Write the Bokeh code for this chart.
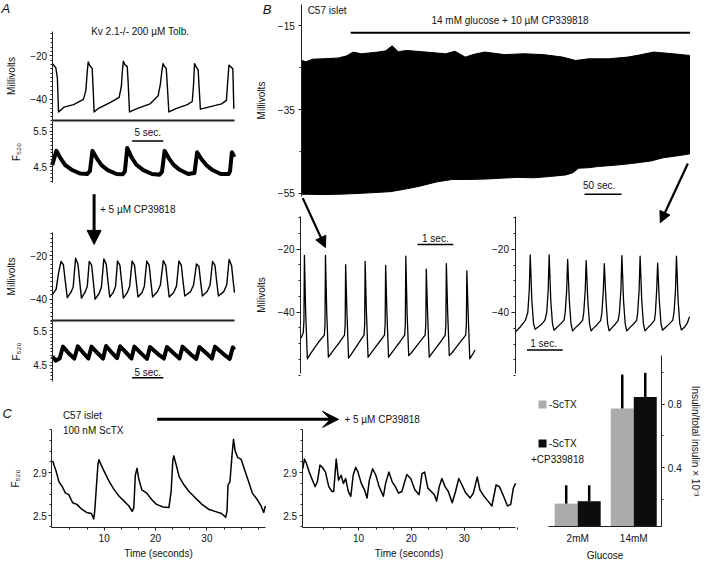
import numpy as np
from bokeh.plotting import figure
from bokeh.models import (Range1d, LinearAxis, FixedTicker, Label, Arrow,
                          NormalHead, VeeHead, Legend, LegendItem)
from bokeh.embed import file_html
from bokeh.resources import INLINE

# ================= DATA =================
# Panel A top: Kv2.1-/- islet, 200 uM tolbutamide -- membrane potential (s, mV)
a1_mv_t = [0.05, 0.58, 0.83, 1.02, 1.88, 3.44, 5.00, 5.39, 5.63, 5.78, 6.02, 6.41, 6.61, 6.72, 7.34,
           9.42, 10.73, 11.09, 11.25, 11.41, 11.64, 12.03, 12.19, 12.39, 13.59, 15.67, 16.98, 17.34,
           17.58, 17.77, 17.97, 18.28, 18.48, 18.70, 19.84, 21.67, 22.45, 22.66, 22.81, 23.05, 23.39,
           23.56, 23.75, 25.05, 27.14, 27.92, 28.13, 28.33, 28.59, 28.95, 29.11]
a1_mv_v = [-23.6, -25.5, -30.0, -45.8, -43.6, -42.4, -40.0, -36.0, -27.0, -22.8, -24.5, -25.8, -38.0,
           -45.8, -44.3, -41.3, -39.1, -34.0, -27.0, -22.5, -24.0, -25.0, -33.0, -45.8, -44.3, -42.1,
           -38.4, -33.0, -27.0, -23.6, -24.8, -25.8, -35.0, -45.8, -44.3, -42.4, -41.0, -33.0, -23.6,
           -25.0, -26.5, -35.0, -44.5, -43.6, -42.1, -40.5, -32.0, -24.3, -25.0, -26.0, -44.3]
# Panel A top: F520 fluorescence
a1_f_t = [0.0, 0.67, 1.35, 2.1, 3.1, 4.5, 5.6, 6.05, 6.45, 7.15, 7.9, 8.9, 10.3, 11.3, 11.65, 12.03,
          12.75, 13.5, 14.6, 16.0, 17.2, 17.6, 18.02, 18.7, 19.5, 20.5, 21.8, 22.8, 23.23, 23.9, 24.7,
          25.7, 27.0, 28.3, 28.5, 28.8, 29.2]
a1_f_v = [4.55, 4.95, 4.74, 4.55, 4.42, 4.31, 4.30, 4.38, 4.95, 4.74, 4.55, 4.41, 4.30, 4.29, 4.37,
          5.03, 4.76, 4.56, 4.41, 4.30, 4.28, 4.36, 4.95, 4.74, 4.55, 4.41, 4.30, 4.33, 4.91, 4.72,
          4.55, 4.41, 4.30, 4.30, 4.38, 4.91, 4.78]
# Panel A bottom (+5 uM CP339818): membrane potential
a2_mv_t = [0.05, 0.63, 1.02, 1.41, 1.80, 2.03, 2.42, 2.97, 3.36, 3.75, 4.14, 4.38, 4.69, 5.23, 5.63,
           5.94, 6.33, 6.56, 6.88, 7.50, 7.89, 8.28, 8.67, 8.91, 9.22, 9.77, 10.16, 10.47, 10.86,
           11.09, 11.41, 12.03, 12.42, 12.81, 13.20, 13.44, 13.75, 14.38, 14.77, 15.16, 15.55, 15.78,
           16.09, 16.88, 17.34, 17.81, 18.20, 18.44, 18.75, 19.45, 19.92, 20.31, 20.70, 20.94, 21.25,
           22.19, 22.66, 23.13, 23.52, 23.75, 24.06, 24.84, 25.31, 25.70, 26.09, 26.33, 26.64, 27.50,
           27.97, 28.36, 28.75, 28.98, 29.22]
a2_mv_v = [-37.8, -35.5, -28.0, -22.7, -24.2, -30.0, -39.3, -37.0, -34.5, -21.2, -24.0, -31.0, -39.5,
           -37.0, -34.0, -22.7, -24.4, -31.0, -40.0, -37.5, -34.5, -21.5, -24.0, -31.0, -39.0, -37.0,
           -34.0, -22.5, -24.5, -31.0, -39.5, -37.0, -34.0, -22.5, -24.5, -31.0, -39.0, -37.0, -34.0,
           -22.5, -24.5, -31.0, -39.0, -36.5, -33.5, -22.3, -24.5, -31.0, -39.0, -37.0, -34.0, -22.5,
           -24.5, -31.0, -38.5, -36.5, -33.5, -23.8, -25.0, -31.0, -38.5, -36.5, -33.5, -22.7, -24.5,
           -31.0, -38.5, -36.5, -33.5, -21.8, -24.5, -31.0, -37.0]
# Panel A bottom: F520
a2_f_t = [0.05, 0.55, 1.2, 1.72, 2.6, 3.55, 4.11, 5.0, 5.8, 6.30, 7.3, 8.15, 8.64, 9.6, 10.4, 10.89,
          11.9, 12.7, 13.17, 14.3, 15.2, 15.67, 17.0, 17.9, 18.39, 19.6, 20.4, 20.89, 22.2, 23.1,
          23.59, 24.8, 25.6, 26.09, 27.5, 28.45, 28.95, 29.2]
a2_f_v = [4.76, 4.64, 4.70, 5.04, 4.86, 4.70, 5.05, 4.86, 4.70, 5.04, 4.85, 4.70, 5.06, 4.86, 4.71,
          5.05, 4.86, 4.70, 5.04, 4.84, 4.69, 5.03, 4.82, 4.70, 5.03, 4.83, 4.70, 5.04, 4.82, 4.69,
          5.03, 4.84, 4.70, 5.04, 4.82, 4.69, 5.02, 4.95]

# Panel B top: C57 islet, envelope of the fast spiking record (s, mV)
bt_up_t = [0, 5.7, 14.5, 27.6, 49.6, 60.5, 69.3, 80.3, 102.2, 113.2, 122.0, 130.3, 141.7, 168.0,
           194.3, 206.6, 220.7, 232.9, 247.0, 273.3, 299.6, 325.9, 352.2, 369.7, 387.2, 413.6,
           439.9, 455.3, 475.0, 501.3, 523.3]
bt_up_v = [-23.3, -23.6, -23.0, -22.9, -22.7, -22.2, -21.3, -21.7, -21.3, -21.0, -19.8, -21.2, -20.9,
           -21.3, -21.7, -21.1, -22.5, -21.8, -21.3, -21.9, -21.7, -21.9, -22.5, -23.3, -22.9, -22.9,
           -22.5, -22.0, -21.3, -21.7, -22.1]
bt_lo_t = [0, 27.6, 53.9, 80.3, 119.7, 139.5, 159.2, 181.6, 202.6, 225.0, 247.4, 268.4, 290.8, 313.2,
           334.2, 356.6, 365.8, 373.7, 386.8, 400.0, 422.4, 444.7, 471.0, 488.2, 505.3, 523.3]
bt_lo_v = [-55.2, -55.3, -55.2, -55.0, -54.6, -54.0, -53.3, -52.3, -51.7, -51.7, -51.6, -51.4, -51.2,
           -51.3, -51.0, -50.6, -50.1, -49.0, -48.9, -48.6, -48.3, -47.9, -47.3, -46.5, -46.1, -45.6]
drug_t = [66, 524]          # 14 mM glucose + 10 uM CP339818 application (s)

# Panel B bottom-left: expanded start of record (s, mV)
bl_t = [0.008, 0.068, 0.087, 0.101, 0.136, 0.183, 0.264, 0.373, 0.510, 0.657, 0.676, 0.689, 0.725,
        0.771, 0.853, 0.962, 1.098, 1.221, 1.240, 1.253, 1.289, 1.335, 1.417, 1.526, 1.649, 1.766,
        1.785, 1.798, 1.834, 1.880, 1.962, 2.071, 2.207, 2.338, 2.357, 2.371, 2.406, 2.452, 2.534,
        2.643, 2.779, 2.902, 2.921, 2.935, 2.970, 3.016, 3.098, 3.207, 3.343, 3.474, 3.493, 3.507,
        3.542, 3.589, 3.670, 3.779, 3.916, 4.035, 4.054, 4.068, 4.104, 4.150, 4.232, 4.341, 4.477,
        4.608, 4.627, 4.640, 4.676, 4.722, 4.796, 4.869]
bl_v = [-48.2, -46.5, -43.0, -22.0, -40.0, -54.8, -53.3, -51.5, -49.3, -47.3, -44.0, -22.0, -40.0,
        -54.3, -53.0, -51.3, -49.3, -47.3, -44.0, -24.9, -40.0, -54.6, -53.2, -51.4, -49.3, -47.3,
        -44.0, -23.9, -40.0, -54.3, -53.0, -51.3, -49.3, -47.3, -44.0, -25.1, -40.0, -54.3, -53.0,
        -51.3, -49.3, -47.3, -44.0, -22.2, -40.0, -53.8, -52.8, -51.2, -49.2, -47.3, -44.0, -26.3,
        -40.0, -54.3, -53.0, -51.3, -49.3, -47.3, -44.0, -24.6, -40.0, -53.8, -52.8, -51.2, -49.2,
        -47.3, -44.0, -26.9, -40.0, -54.8, -53.5, -52.0]
# Panel B bottom-right: expanded end of record
br_t = [0.008, 0.144, 0.281, 0.349, 0.390, 0.417, 0.463, 0.510, 0.553, 0.646, 0.736, 0.826, 0.878,
        0.919, 0.946, 0.992, 1.038, 1.082, 1.172, 1.267, 1.362, 1.395, 1.436, 1.463, 1.510, 1.556,
        1.599, 1.689, 1.785, 1.880, 1.913, 1.954, 1.981, 2.027, 2.074, 2.117, 2.207, 2.297, 2.387,
        2.420, 2.460, 2.488, 2.534, 2.580, 2.624, 2.711, 2.793, 2.875, 2.910, 2.951, 2.978, 3.025,
        3.071, 3.114, 3.207, 3.297, 3.392, 3.420, 3.460, 3.488, 3.534, 3.580, 3.624, 3.714, 3.801,
        3.888, 3.916, 3.951, 3.978, 4.025, 4.071, 4.114, 4.210, 4.305, 4.401, 4.436, 4.477, 4.504,
        4.550, 4.597, 4.640, 4.741, 4.809, 4.869]
br_v = [-46.1, -44.5, -42.5, -40.0, -33.0, -21.8, -36.3, -43.5, -45.3, -44.5, -43.7, -42.5, -40.0,
        -33.0, -21.8, -36.3, -43.5, -45.6, -44.6, -43.6, -42.4, -40.0, -33.0, -23.2, -36.3, -43.5,
        -45.8, -44.7, -43.7, -42.5, -40.0, -33.0, -23.6, -36.3, -43.5, -45.8, -44.7, -43.7, -42.5,
        -40.0, -33.0, -24.6, -36.3, -43.5, -45.8, -44.7, -43.7, -42.5, -40.0, -33.0, -22.0, -36.3,
        -43.5, -45.8, -44.7, -43.7, -42.5, -40.0, -33.0, -22.2, -36.3, -43.5, -45.8, -44.7, -43.7,
        -42.5, -40.0, -33.0, -24.4, -36.3, -43.5, -45.6, -44.6, -43.6, -42.4, -40.0, -33.0, -22.2,
        -36.3, -43.5, -45.5, -44.5, -43.3, -41.3]

# Panel C: F520, C57 islet with 100 nM ScTX (s, F520)
cl_t = [0.0, 0.27, 0.70, 1.21, 1.84, 2.48, 3.11, 3.87, 4.69, 5.64, 6.58, 7.53, 7.98, 8.17, 8.80, 9.00,
        9.43, 10.08, 11.02, 11.97, 12.92, 13.87, 14.82, 15.45, 15.77, 16.07, 16.40, 16.72, 17.34,
        18.29, 19.24, 20.19, 21.46, 22.60, 23.04, 23.36, 23.55, 23.98, 24.61, 25.56, 26.51, 27.78,
        29.05, 30.30, 31.57, 32.85, 33.66, 33.92, 34.10, 34.48, 34.93, 35.18, 35.50, 36.00, 36.64,
        37.27, 38.03, 38.84, 39.79, 40.55, 41.06, 41.38]
cl_v = [3.01, 2.966, 2.905, 2.815, 2.77, 2.71, 2.695, 2.62, 2.605, 2.56, 2.53, 2.52, 2.47, 2.545, 2.98,
        3.02, 2.97, 2.905, 2.815, 2.74, 2.68, 2.635, 2.59, 2.54, 2.575, 2.876, 2.94, 2.846, 2.74,
        2.71, 2.65, 2.605, 2.58, 2.575, 2.725, 3.01, 3.056, 2.98, 2.86, 2.785, 2.725, 2.665, 2.605,
        2.56, 2.54, 2.52, 2.485, 2.545, 2.785, 2.815, 3.086, 3.21, 3.10, 3.04, 3.026, 2.936, 2.83,
        2.71, 2.65, 2.59, 2.53, 2.59]
# Panel C: + 5 uM CP339818
cr_t = [-0.55, -0.24, 0.06, 0.68, 1.29, 1.79, 2.21, 2.71, 3.14, 3.75, 4.37, 4.98, 5.30, 5.78, 6.22,
        6.70, 7.14, 7.56, 8.06, 8.54, 8.99, 9.47, 9.90, 10.52, 11.13, 11.62, 12.05, 12.67, 13.28,
        13.90, 14.70, 15.13, 15.74, 16.37, 16.97, 17.58, 18.21, 19.13, 19.87, 20.66, 21.46, 22.01,
        22.51, 23.12, 23.75, 24.35, 24.78, 25.28, 25.77, 26.38, 26.99, 27.73, 28.36, 28.97, 29.58,
        30.31, 31.13, 31.73, 32.47, 32.97, 33.76, 34.50, 35.24, 36.03, 36.66, 37.45, 38.19, 38.80,
        39.30, 39.72]
cr_v = [2.936, 3.026, 2.996, 2.905, 2.83, 2.77, 2.815, 2.97, 2.95, 2.905, 2.77, 2.725, 2.725, 3.026,
        2.83, 2.876, 2.80, 2.846, 2.725, 2.68, 2.876, 2.95, 2.905, 2.80, 2.74, 2.665, 2.83, 2.936,
        2.876, 2.77, 2.68, 2.80, 2.905, 2.815, 2.77, 2.71, 2.725, 2.882, 2.846, 2.74, 2.695, 2.89,
        2.905, 2.756, 2.725, 2.695, 2.635, 2.77, 2.846, 2.77, 2.725, 2.62, 2.725, 2.846, 2.785,
        2.71, 2.665, 2.71, 2.86, 2.74, 2.68, 2.635, 2.59, 2.785, 2.77, 2.68, 2.59, 2.605, 2.756, 2.80]

# Panel C bar chart: insulin / total insulin x 10^-3
glucose = ["2mM", "14mM"]
sctx_mean = [0.175, 0.773]
sctx_err = [0.115, 0.213]
cp_mean = [0.19, 0.845]
cp_err = [0.10, 0.152]

# scale bar lengths (s)
scale_a = 5
scale_bt = 50
scale_bb = 1

# ================= LAYOUT =================
W, H = 702, 561            # canvas; reference pixel space 720 x 579 is mapped onto it
FONT = "Liberation Sans"
FS = "10px"
INK = "#111111"

p = figure(width=W, height=H, x_range=Range1d(0, 720), y_range=Range1d(579, 0),
           x_axis_type=None, y_axis_type=None, toolbar_location=None, output_backend="svg",
           min_border_left=0, min_border_right=0, min_border_top=0, min_border_bottom=0)
p.outline_line_color = None
p.background_fill_color = "white"
p.border_fill_color = "white"


class Map:
    """reference-pixel <-> data mapping of one panel, registered as extra ranges"""
    def __init__(self, name, xpx, xval, xppu, ypa, yva, ypb, yvb):
        self.name = name
        self.xpx, self.xval, self.xppu = xpx, xval, xppu
        self.ypa, self.yva = ypa, yva
        self.yppu = (ypb - ypa) / (yva - yvb)
        p.extra_x_ranges[name] = Range1d(self.xv(0), self.xv(720))
        p.extra_y_ranges[name] = Range1d(self.yv(579), self.yv(0))

    def xv(self, px):
        return self.xval + (px - self.xpx) / self.xppu

    def yv(self, py):
        return self.yva + (self.ypa - py) / self.yppu

    def kw(self):
        return dict(x_range_name=self.name, y_range_name=self.name)


def minors(lo, hi, step, majors):
    out = []
    for v in np.arange(lo, hi + step / 2, step):
        if all(abs(v - mj) > 1e-6 for mj in majors):
            out.append(round(float(v), 4))
    return out


def style_axis(ax, tick_out, minor_out, standoff, label_standoff):
    ax.axis_line_color = "#222222"
    ax.major_tick_line_color = "#222222"
    ax.minor_tick_line_color = "#222222"
    ax.major_tick_out = tick_out
    ax.major_tick_in = 0
    ax.minor_tick_out = minor_out
    ax.minor_tick_in = 0
    ax.major_label_standoff = standoff
    ax.major_label_text_font = FONT
    ax.major_label_text_font_size = FS
    ax.major_label_text_color = INK
    ax.axis_label_text_font = FONT
    ax.axis_label_text_font_size = FS
    ax.axis_label_text_font_style = "normal"
    ax.axis_label_text_color = INK
    ax.axis_label_standoff = label_standoff


def yaxis(m, side, at_px, b0, b1, ticks, minor=(), label=None, tick_out=3, minor_out=2,
          standoff=2, label_standoff=8):
    ax = LinearAxis(ticker=FixedTicker(ticks=list(ticks), minor_ticks=list(minor)),
                    bounds=(m.yv(b0), m.yv(b1)), axis_label=label,
                    fixed_location=m.xv(at_px), **m.kw())
    style_axis(ax, tick_out, minor_out, standoff, label_standoff)
    p.add_layout(ax, side)
    return ax


def xaxis(m, at_px, b0, b1, ticks, minor=(), label=None, tick_out=3, minor_out=2,
          standoff=2, label_standoff=8, overrides=None, line_width=1.0):
    ax = LinearAxis(ticker=FixedTicker(ticks=list(ticks), minor_ticks=list(minor)),
                    bounds=(m.xv(b0), m.xv(b1)), axis_label=label,
                    fixed_location=m.yv(at_px), **m.kw())
    style_axis(ax, tick_out, minor_out, standoff, label_standoff)
    ax.axis_line_width = line_width
    if overrides:
        ax.major_label_overrides = overrides
    p.add_layout(ax, "below")
    return ax


def text(m, s, px, py, align="left", baseline="middle", size=FS, style="normal"):
    p.add_layout(Label(x=m.xv(px), y=m.yv(py), text=s, text_align=align,
                       text_baseline=baseline, text_font=FONT, text_font_size=size,
                       text_font_style=style, text_color=INK, **m.kw()))


def scalebar(m, length, px, py):
    t0 = m.xv(px)
    p.line([t0, t0 + length], [m.yv(py), m.yv(py)], line_color="black", line_width=1.5, **m.kw())


def arrow(m, xs, ys, xe, ye, head=None, lw=2.0):
    p.add_layout(Arrow(x_start=m.xv(xs), y_start=m.yv(ys), x_end=m.xv(xe), y_end=m.yv(ye),
                       end=head, line_width=lw, line_color="black", **m.kw()))


def trace(m, t, v, lw):
    p.line(t, v, line_color="black", line_width=lw, line_join="round", **m.kw())


# ---- panel mappings (reference pixel position of known values)
mA1m = Map("a1m", 53, 0, 6.4, 57, -20, 102, -40)
mA1f = Map("a1f", 53, 0, 6.4, 135, 5.5, 171.7, 4.5)
mA2m = Map("a2m", 53, 0, 6.4, 263.3, -20, 308.3, -40)
mA2f = Map("a2f", 53, 0, 6.4, 340.7, 5.5, 376.7, 4.5)
mBt = Map("bt", 309, 0, 0.76, 26, -15, 199, -55)
mBl = Map("bl", 308, 0, 36.7, 256.7, -20, 321.7, -40)
mBr = Map("br", 528, 0, 36.7, 256.7, -20, 322, -40)
mCl = Map("cl", 53.6, 0, 5.27, 487.3, 2.9, 531.7, 2.5)
mCr = Map("cr", 313, 0, 5.42, 487.3, 2.9, 531.7, 2.5)
mBar = Map("bar", 592, 0, 57.5, 548, 0.0, 482.3, 0.4)

F520 = "F\u2085\u2082\u2080"

# ---- A top
trace(mA1m, a1_mv_t, a1_mv_v, 1.4)
yaxis(mA1m, "left", 53, 123.5, 32, [-40, -20], minors(-48, -10, 2, [-40, -20]),
      label="Millivolts", label_standoff=11)
xaxis(mA1m, 123.5, 53, 240, [], line_width=2)
text(mA1m, "A", 1, 1, baseline="top", size="13px", style="italic")
text(mA1m, "Kv 2.1-/- 200 \u00b5M Tolb.", 93, 32)

trace(mA1f, a1_f_t, a1_f_v, 4)
yaxis(mA1f, "left", 53, 188, 124.5, [4.5, 5.5], minors(4.1, 5.8, 0.1, [4.5, 5.5]),
      label=F520, label_standoff=9)
scalebar(mA1f, scale_a, 135, 145)
text(mA1f, "5 sec.", 151, 136.5, align="center")

# ---- B top
p.patch(bt_up_t + bt_lo_t[::-1], bt_up_v + bt_lo_v[::-1], fill_color="black",
        line_color="black", line_width=1, **mBt.kw())
yaxis(mBt, "left", 309, 202, 4, [-55, -35, -15], [-45, -25], label="Millivolts",
      standoff=4, label_standoff=8)
p.line(drug_t, [mBt.yv(33.3)] * 2, line_color="black", line_width=2, **mBt.kw())
text(mBt, "B", 269, 2, baseline="top", size="13px", style="italic")
text(mBt, "C57 islet", 315, 10)
text(mBt, "14 mM glucose + 10 \u00b5M CP339818", 442, 20.5)
scalebar(mBt, scale_bt, 599, 200)
text(mBt, "50 sec.", 614, 191, align="center")
arrow(mBt, 310, 204, 333.3, 255, head=NormalHead(size=11, fill_color="black", line_color="black"),
      lw=2.2)
arrow(mBt, 705, 168.3, 676.7, 229.3, head=NormalHead(size=11, fill_color="black",
                                                     line_color="black"), lw=2.2)

# ---- A bottom
trace(mA2m, a2_mv_t, a2_mv_v, 1.4)
yaxis(mA2m, "left", 53, 330.5, 239, [-40, -20], minors(-50, -10, 2, [-40, -20]),
      label="Millivolts", label_standoff=11)
xaxis(mA2m, 330.5, 53, 240, [], line_width=2)
arrow(mA2m, 96, 200, 96, 251.7, head=NormalHead(size=14, fill_color="black", line_color="black"),
      lw=3)
text(mA2m, "+ 5 \u00b5M CP39818", 102, 216)

trace(mA2f, a2_f_t, a2_f_v, 4)
yaxis(mA2f, "left", 53, 393, 331.5, [4.5, 5.5], minors(4.1, 5.8, 0.1, [4.5, 5.5]),
      label=F520, label_standoff=9)
scalebar(mA2f, scale_a, 135, 389.3)
text(mA2f, "5 sec.", 151, 383.5, align="center")

# ---- B bottom left / right
trace(mBl, bl_t, bl_v, 1.3)
yaxis(mBl, "left", 307.7, 385, 223.3, [-40, -20], minors(-60, -10, 5, [-40, -20]),
      label="Milivolts", tick_out=4, label_standoff=8)
scalebar(mBl, scale_bb, 427.7, 251.7)
text(mBl, "1 sec.", 446, 245.5, align="center")

trace(mBr, br_t, br_v, 1.3)
yaxis(mBr, "left", 527.7, 385, 223.3, [-40, -20], minors(-60, -10, 5, [-40, -20]), tick_out=4)
scalebar(mBr, scale_bb, 540, 360.7)
text(mBr, "1 sec.", 557, 353.5, align="center")

# ---- C left
trace(mCl, cl_t, cl_v, 1.5)
yaxis(mCl, "left", 52.7, 544.3, 443, [2.5, 2.9], [2.4, 2.6, 2.7, 2.8, 3.0, 3.1, 3.2, 3.3],
      label=F520, label_standoff=9)
xaxis(mCl, 544.3, 52.7, 271.7, [10, 20, 30], minors(10 / 3, 40, 10 / 3, [10, 20, 30]),
      label="Time (seconds)", standoff=3, label_standoff=3)
text(mCl, "C", 2, 418, baseline="top", size="13px", style="italic")
text(mCl, "C57 islet", 64, 428.5)
text(mCl, "100 nM ScTX", 64, 444)
arrow(mCl, 160.7, 432.3, 346.7, 432.3, head=VeeHead(size=16, fill_color="black",
                                                    line_color="black"), lw=3)

# ---- C right
trace(mCr, cr_t, cr_v, 1.5)
yaxis(mCr, "left", 309.3, 544.3, 443, [2.5, 2.9], [2.4, 2.6, 2.7, 2.8, 3.0, 3.1, 3.2, 3.3])
xaxis(mCr, 544.3, 309.3, 528.3, [10, 20, 30], minors(10 / 3, 40, 10 / 3, [10, 20, 30]),
      label="Time (seconds)", standoff=3, label_standoff=3)
text(mCr, "+ 5 \u00b5M CP39818", 352.7, 432.3)

# ---- C bar chart (bars stand on the x-axis line)
xg = np.arange(len(glucose))
off = 0.205
base = mBar.yv(543.3)
g_r = p.vbar(x=xg - off, top=sctx_mean, bottom=base, width=0.41, fill_color="#ababab",
             line_color=None, **mBar.kw())
b_r = p.vbar(x=xg + off, top=cp_mean, bottom=base, width=0.41, fill_color="#0d0d0d",
             line_color=None, **mBar.kw())
p.segment(x0=xg - off, y0=sctx_mean, x1=xg - off, y1=np.array(sctx_mean) + np.array(sctx_err),
          line_color="black", line_width=2.5, **mBar.kw())
p.segment(x0=xg + off, y0=cp_mean, x1=xg + off, y1=np.array(cp_mean) + np.array(cp_err),
          line_color="black", line_width=2.5, **mBar.kw())
yaxis(mBar, "right", 678.3, 543.3, 366.7, [0.4, 0.8], [0.2, 0.6, 1.0],
      label="Insulin/total insulin \u00d7 10\u207b\u00b3", tick_out=3, standoff=3,
      label_standoff=6)
xaxis(mBar, 543.3, 561.7, 678.3, list(xg), [], label="Glucose", tick_out=0, minor_out=0,
      standoff=6, label_standoff=3, overrides={int(i): c for i, c in enumerate(glucose)})
sx, sy = W / 720, H / 579
leg = Legend(items=[LegendItem(label="-ScTX", renderers=[g_r]),
                    LegendItem(label="-ScTX", renderers=[b_r])],
             location=(int(round(550.7 * sx)), int(round(H - (456.7 * sy + 6)))),
             orientation="vertical", glyph_width=10, glyph_height=10, label_height=12,
             spacing=27, padding=0, margin=0, border_line_color=None,
             background_fill_alpha=0, label_standoff=2, label_text_font=FONT,
             label_text_font_size=FS, label_text_color=INK)
p.add_layout(leg)
text(mBar, "+CP339818", 544, 473.3)

open("out.html", "w").write(file_html(p, INLINE))
